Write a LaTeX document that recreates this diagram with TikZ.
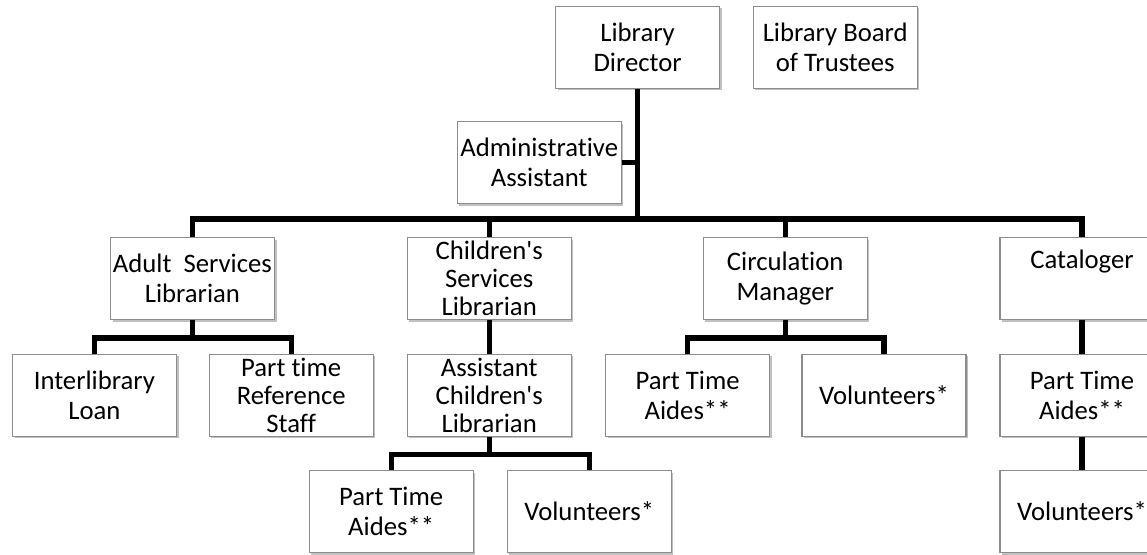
\documentclass[tikz,border=0pt]{standalone}
\usepackage{fontspec}
\setmainfont{Carlito}[Ligatures={TeXOff,NoCommon}]
\usetikzlibrary{shadows}
\tikzset{box/.style={draw=black!45,line width=0.8pt,fill=white,align=center,minimum width=4.1cm,minimum height=2.05cm,inner sep=0.5pt,font=\fontsize{19}{21.5}\selectfont,drop shadow={shadow xshift=1.5pt,shadow yshift=-1.5pt,fill=black!45,opacity=0.55}},tall/.style={font=\fontsize{19}{20}\selectfont},link/.style={line width=3.6pt,line join=miter}}
\begin{document}
\begin{tikzpicture}
\useasboundingbox (0,0) rectangle (28.675,-13.85);
\node[box] (dir) at (15.94,-1.18) {Library\\Director};
\node[box] (board) at (20.88,-1.18) {Library Board\\of Trustees};
\node[box] (admin) at (13.48,-4.06) {Administrative\\Assistant};
\node[box] (adult) at (4.81,-6.96) {Adult~ Services\\Librarian};
\node[box,tall] (child) at (12.23,-6.96) {Children's\\Services\\Librarian};
\node[box] (circ) at (19.63,-6.96) {Circulation\\Manager};
\node[box] (catal) at (27.05,-6.96) {Cataloger\\[6pt]~};
\node[box] (ill) at (2.36,-9.88) {Interlibrary\\Loan};
\node[box,tall] (ref) at (7.28,-9.88) {Part time\\Reference\\Staff};
\node[box,tall] (asst) at (12.23,-9.88) {Assistant\\Children's\\Librarian};
\node[box] (cpta) at (9.78,-12.79) {Part Time\\Aides**};
\node[box] (cvol) at (14.73,-12.79) {Volunteers*};
\node[box] (mpta) at (17.19,-9.88) {Part Time\\Aides**};
\node[box] (mvol) at (22.10,-9.88) {Volunteers*};
\node[box] (kpta) at (27.05,-9.88) {Part Time\\Aides**};
\node[box] (kvol) at (27.05,-12.79) {Volunteers*};
% main bus
\coordinate (bus) at (15.94,-5.475);
\draw[link] (dir.south) -- (bus);
\draw[link] (admin.east) -- (admin.east -| dir.south);
\draw[link] (adult.north) |- (bus) -| (catal.north);
\draw[link] (child.north) -- (child.north |- bus);
\draw[link] (circ.north) -- (circ.north |- bus);
% sub branches
\draw[link] (adult.south) -- ++(0,-0.45) coordinate (ja);
\draw[link] (ill.north) |- (ja) -| (ref.north);
\draw[link] (child.south) -- (asst.north);
\draw[link] (asst.south) -- ++(0,-0.45) coordinate (jc);
\draw[link] (cpta.north) |- (jc) -| (cvol.north);
\draw[link] (circ.south) -- ++(0,-0.45) coordinate (jm);
\draw[link] (mpta.north) |- (jm) -| (mvol.north);
\draw[link] (catal.south) -- (kpta.north);
\draw[link] (kpta.south) -- (kvol.north);
\end{tikzpicture}
\end{document}
